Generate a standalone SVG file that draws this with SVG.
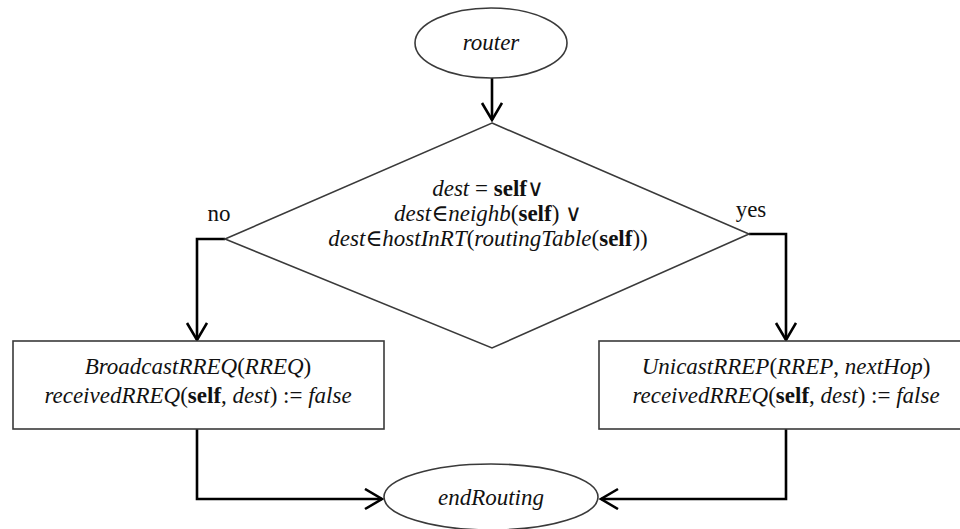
<svg xmlns="http://www.w3.org/2000/svg" width="960" height="529" viewBox="0 0 960 529">
<style>
.shape{fill:#fff;stroke:#3a3a3a;stroke-width:1.6}
.conn{fill:none;stroke:#000;stroke-width:2.6}
.t{font-family:'Liberation Serif','DejaVu Serif',serif;font-size:23px;fill:#111;text-anchor:middle}
.i{font-style:italic}
.b{font-weight:bold}
</style>
<defs>
<marker id="arr" markerUnits="userSpaceOnUse" markerWidth="24" markerHeight="24" refX="18" refY="11" orient="auto">
<path d="M1,1 L18,11 L1,21" fill="none" stroke="#000" stroke-width="2.6"/>
</marker>
</defs>
<g id="connectors">
<line class="conn" x1="492" y1="78" x2="492" y2="120" marker-end="url(#arr)"/>
<polyline class="conn" points="225,239 197,239 197,340" marker-end="url(#arr)"/>
<polyline class="conn" points="749,234 786,234 786,340" marker-end="url(#arr)"/>
<polyline class="conn" points="197,429 197,499 382,499" marker-end="url(#arr)"/>
<polyline class="conn" points="786,429 786,499 601,499" marker-end="url(#arr)"/>
</g>
<g id="router">
<ellipse class="shape" cx="491" cy="43" rx="76" ry="35"/>
<text class="t i" x="491" y="50" font-family="Liberation Serif, serif">router</text>
</g>
<g id="decision">
<polygon class="shape" points="492,123 749,234 492,348 225,239"/>
<text class="t" x="488" y="196"><tspan class="i">dest</tspan> = <tspan class="b">self</tspan>∨</text>
<text class="t" x="488" y="221"><tspan class="i">dest</tspan>∈<tspan class="i">neighb</tspan>(<tspan class="b">self</tspan>) ∨</text>
<text class="t" x="488" y="246"><tspan class="i">dest</tspan>∈<tspan class="i">hostInRT</tspan>(<tspan class="i">routingTable</tspan>(<tspan class="b">self</tspan>))</text>
</g>
<g id="label-no"><text class="t" x="219" y="221">no</text></g>
<g id="label-yes"><text class="t" x="751" y="217">yes</text></g>
<g id="broadcast">
<rect class="shape" x="13" y="341" width="371" height="88"/>
<text class="t" x="198" y="374"><tspan class="i">BroadcastRREQ</tspan>(<tspan class="i">RREQ</tspan>)</text>
<text class="t" x="198" y="403"><tspan class="i">receivedRREQ</tspan>(<tspan class="b">self</tspan>, <tspan class="i">dest</tspan>) := <tspan class="i">false</tspan></text>
</g>
<g id="unicast">
<rect class="shape" x="599" y="341" width="380" height="88"/>
<text class="t" x="786" y="374"><tspan class="i">UnicastRREP</tspan>(<tspan class="i">RREP</tspan>, <tspan class="i">nextHop</tspan>)</text>
<text class="t" x="786" y="403"><tspan class="i">receivedRREQ</tspan>(<tspan class="b">self</tspan>, <tspan class="i">dest</tspan>) := <tspan class="i">false</tspan></text>
</g>
<g id="endRouting">
<ellipse class="shape" cx="491" cy="497" rx="107" ry="33"/>
<text class="t i" x="491" y="505">endRouting</text>
</g>
</svg>
